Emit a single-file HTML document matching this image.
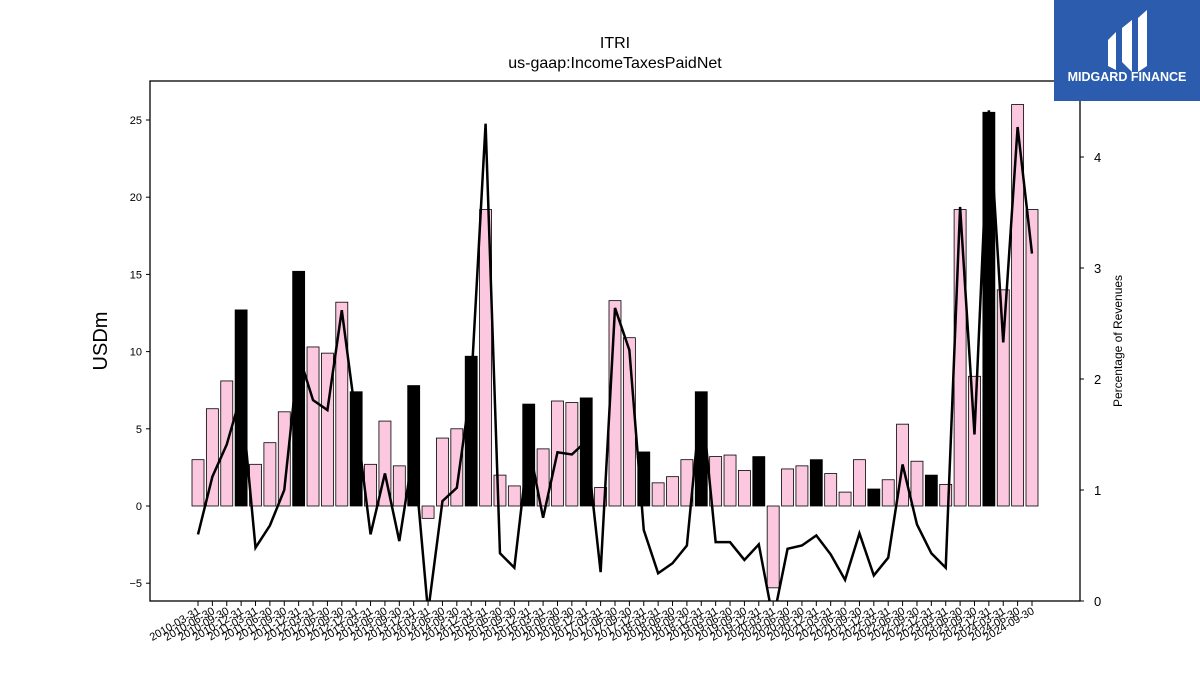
<!DOCTYPE html>
<html><head><meta charset="utf-8"><style>
body{margin:0;background:#fff;width:1200px;height:675px;overflow:hidden;font-family:"Liberation Sans","DejaVu Sans",sans-serif}
svg{position:absolute;left:0;top:0}
</style></head><body>
<svg id="c" width="1200" height="675"></svg>
<script>
const dates=["2010-03-31","2010-06-30","2010-09-30","2010-12-31","2011-03-31","2011-06-30","2011-09-30","2011-12-31","2012-03-31","2012-06-30","2012-09-30","2012-12-31","2013-03-31","2013-06-30","2013-09-30","2013-12-31","2014-03-31","2014-06-30","2014-09-30","2014-12-31","2015-03-31","2015-06-30","2015-09-30","2015-12-31","2016-03-31","2016-06-30","2016-09-30","2016-12-31","2017-03-31","2017-06-30","2017-09-30","2017-12-31","2018-03-31","2018-06-30","2018-09-30","2018-12-31","2019-03-31","2019-06-30","2019-09-30","2019-12-31","2020-03-31","2020-06-30","2020-09-30","2020-12-31","2021-03-31","2021-06-30","2021-09-30","2021-12-31","2022-03-31","2022-06-30","2022-09-30","2022-12-31","2023-03-31","2023-06-30","2023-09-30","2023-12-31","2024-03-31","2024-06-30","2024-09-30"];
const taxes=[3.0,6.3,8.1,12.7,2.7,4.1,6.1,15.2,10.3,9.9,13.2,7.4,2.7,5.5,2.6,7.8,-0.8,4.4,5.0,9.7,19.2,2.0,1.3,6.6,3.7,6.8,6.7,7.0,1.2,13.3,10.9,3.5,1.5,1.9,3.0,7.4,3.2,3.3,2.3,3.2,-5.3,2.4,2.6,3.0,2.1,0.9,3.0,1.1,1.7,5.3,2.9,2.0,1.4,19.2,8.4,25.5,14.0,26.0,19.2];
const pct=[0.60,1.12,1.41,1.86,0.48,0.68,1.0,2.22,1.81,1.72,2.62,1.63,0.60,1.15,0.54,1.36,-0.1,0.9,1.02,1.95,4.30,0.43,0.30,1.41,0.75,1.34,1.32,1.44,0.26,2.64,2.26,0.64,0.25,0.34,0.50,1.84,0.53,0.53,0.37,0.51,-0.17,0.47,0.50,0.59,0.42,0.19,0.61,0.23,0.39,1.23,0.69,0.43,0.30,3.55,1.50,4.42,2.33,4.27,3.13];
const leftTicks=[-5,0,5,10,15,20,25];
const rightTicks=[0,1,2,3,4];

const NS="http://www.w3.org/2000/svg",svg=document.getElementById('c');
const L=150,R=1080,T=81,B=601;
const yL=v=>506-v*15.44, yR=v=>601-v*111, x=i=>198+i*(834/(dates.length-1));
function el(t,a,p){const e=document.createElementNS(NS,t);for(const k in a)e.setAttribute(k,a[k]);(p||svg).appendChild(e);return e;}
function txt(s,a){const e=el('text',a);e.textContent=s;return e;}
const defs=el('defs',{});const cp=el('clipPath',{id:'pc'},defs);el('rect',{x:L,y:T,width:R-L,height:B-T},cp);
const g=el('g',{'clip-path':'url(#pc)'});

const bw=12;
taxes.forEach((v,i)=>{const y0=yL(0),y1=yL(v);
 const r=el('rect',{x:x(i)-bw/2,y:Math.min(y0,y1),width:bw,height:Math.abs(y1-y0),fill:i%4==3?'#000':'#fcc8e0',stroke:'#000','stroke-width':0.8},g);
 
 });
const ln=el('polyline',{points:pct.map((v,i)=>x(i)+','+yR(v)).join(' '),fill:'none',stroke:'#000','stroke-width':2.5},g);


const fr=el('rect',{x:L,y:T,width:R-L,height:B-T,fill:'none',stroke:'#000','stroke-width':1.3});


leftTicks.forEach(v=>{const y=yL(v);el('line',{x1:L-4,x2:L,y1:y,y2:y,stroke:'#000'});
 const t=txt(v<0?'\u22125':String(v),{x:L-8,y:y+4,'font-size':11,'text-anchor':'end'});
 
 });
rightTicks.forEach(v=>{const y=yR(v);el('line',{x1:R,x2:R+4,y1:y,y2:y,stroke:'#000'});
 const t=txt(String(v),{x:R+14,y:y+5,'font-size':13});
 
 });
dates.forEach((d,i)=>{const xx=x(i);el('line',{x1:xx,x2:xx,y1:B,y2:B+5,stroke:'#000'});
 const t=txt(d,{x:xx+3,y:B+12,'font-size':11,'text-anchor':'end',transform:`rotate(-30 ${xx+3} ${B+12})`});
 
 });
let t=txt('USDm',{x:107,y:341,'font-size':20,'text-anchor':'middle',transform:'rotate(-90 107 341)'});


t=txt('Percentage of Revenues',{x:1122,y:341,'font-size':12,'text-anchor':'middle',transform:'rotate(-90 1122 341)'});


t=txt('ITRI',{x:615,y:48,'font-size':16,'text-anchor':'middle'});


t=txt('us-gaap:IncomeTaxesPaidNet',{x:615,y:68,'font-size':16,'text-anchor':'middle'});


const lg=el('g',{});


el('rect',{x:1054,y:0,width:146,height:101,fill:'#2b5cad'},lg);
el('path',{d:'M1108 40 L1116 32 L1116 70 L1108 66 Z',fill:'#fff'},lg);
el('path',{d:'M1122 28 L1132 20 L1132 72 L1122 62 Z',fill:'#fff'},lg);
el('path',{d:'M1138 18 L1147 10 L1147 66 L1138 72 Z',fill:'#fff'},lg);
const lt=txt('MIDGARD FINANCE',{x:1127,y:81,'font-size':12.5,'font-weight':'bold',fill:'#fff','text-anchor':'middle'});
lg.appendChild(lt);
</script>
</body></html>
